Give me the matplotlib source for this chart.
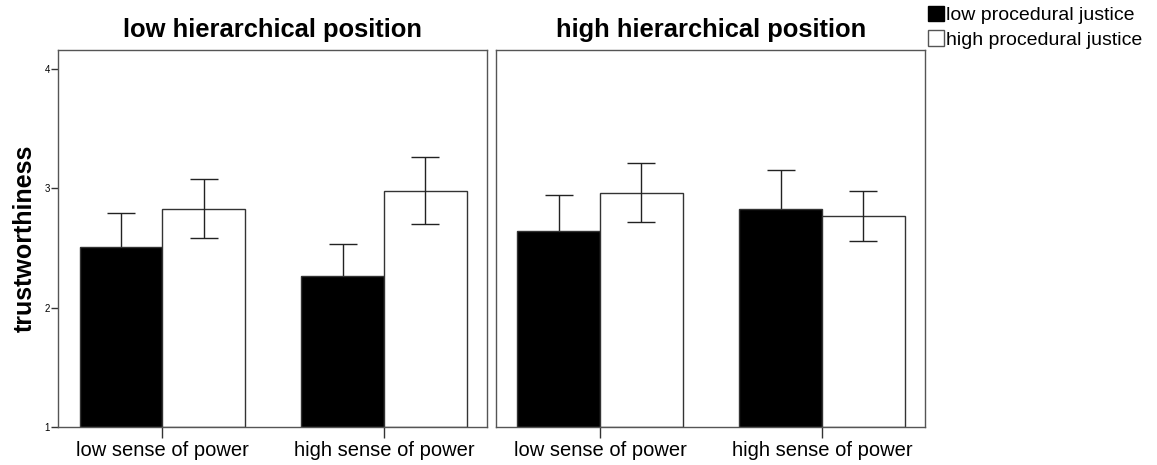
import matplotlib
matplotlib.use('Agg')
import matplotlib.pyplot as plt
from matplotlib.patches import Patch
import numpy as np

plt.rcParams['font.family'] = ['Liberation Sans', 'DejaVu Sans']

#%% Datos (medias y límites de error)
panels = ['low hierarchical position', 'high hierarchical position']
categories = ['low sense of power', 'high sense of power']
series = ['low procedural justice', 'high procedural justice']

# medias [panel][categoria]
low_pj_mean = [[2.51, 2.27], [2.64, 2.83]]
high_pj_mean = [[2.83, 2.98], [2.96, 2.77]]
# limites superior / inferior de las barras de error
low_pj_hi = [[2.79, 2.53], [2.94, 3.15]]
low_pj_lo = [[2.23, 2.02], [2.34, 2.51]]
high_pj_hi = [[3.08, 3.26], [3.21, 2.98]]
high_pj_lo = [[2.58, 2.70], [2.72, 2.56]]

y_ticks = [1, 2, 3, 4]

#%% Figura
fig = plt.figure(figsize=(11.57, 4.65), dpi=100)
edge = '#555555'
ax_pos = [[0.0504, 0.0811, 0.3708, 0.8114], [0.4287, 0.0811, 0.3710, 0.8114]]
x = np.arange(len(categories))
w = 0.373

for p in range(2):
    ax = fig.add_axes(ax_pos[p])
    means = [low_pj_mean[p], high_pj_mean[p]]
    his = [low_pj_hi[p], high_pj_hi[p]]
    los = [low_pj_lo[p], high_pj_lo[p]]
    colors = ['black', 'white']
    offs = [-w / 2, w / 2]
    # la parte inferior del error de la barra negra queda oculta
    err_z = [1, 3]
    for s in range(2):
        m = np.array(means[s])
        err = [m - np.array(los[s]), np.array(his[s]) - m]
        ax.bar(x + offs[s], m - 1, bottom=1, width=w, color=colors[s],
               edgecolor='#333333', linewidth=1, zorder=2)
        ax.errorbar(x + offs[s], m, yerr=err, fmt='none', ecolor='#222222',
                    elinewidth=1, capsize=10, capthick=1, zorder=err_z[s])
    ax.set_xlim(-0.469, 1.466)
    ax.set_ylim(1, 4.157)
    ax.set_xticks(x)
    ax.set_xticklabels(categories, fontsize=14.5)
    ax.tick_params(axis='x', length=8, width=1, color='#333333', pad=2)
    if p == 0:
        ax.set_yticks(y_ticks)
        ax.set_yticklabels([str(t) for t in y_ticks], fontsize=7)
        ax.tick_params(axis='y', length=5, width=1, color='#333333', pad=1)
        ax.set_ylabel('trustworthiness', fontsize=18, fontweight='bold', labelpad=6)
    else:
        ax.set_yticks([])
    for sp in ax.spines.values():
        sp.set_color(edge)
        sp.set_linewidth(1)
    ax.set_title(panels[p], fontsize=18.4, fontweight='bold', pad=9)

handles = [Patch(facecolor='black', edgecolor='black'),
           Patch(facecolor='white', edgecolor='#555555')]
fig.legend(handles, series, loc='upper left', bbox_to_anchor=(0.795, 1.004),
           frameon=False, fontsize=14, handlelength=0.85, handleheight=0.85,
           handletextpad=0.1, labelspacing=0.3, borderaxespad=0)

fig.savefig('out.png', dpi=100)
